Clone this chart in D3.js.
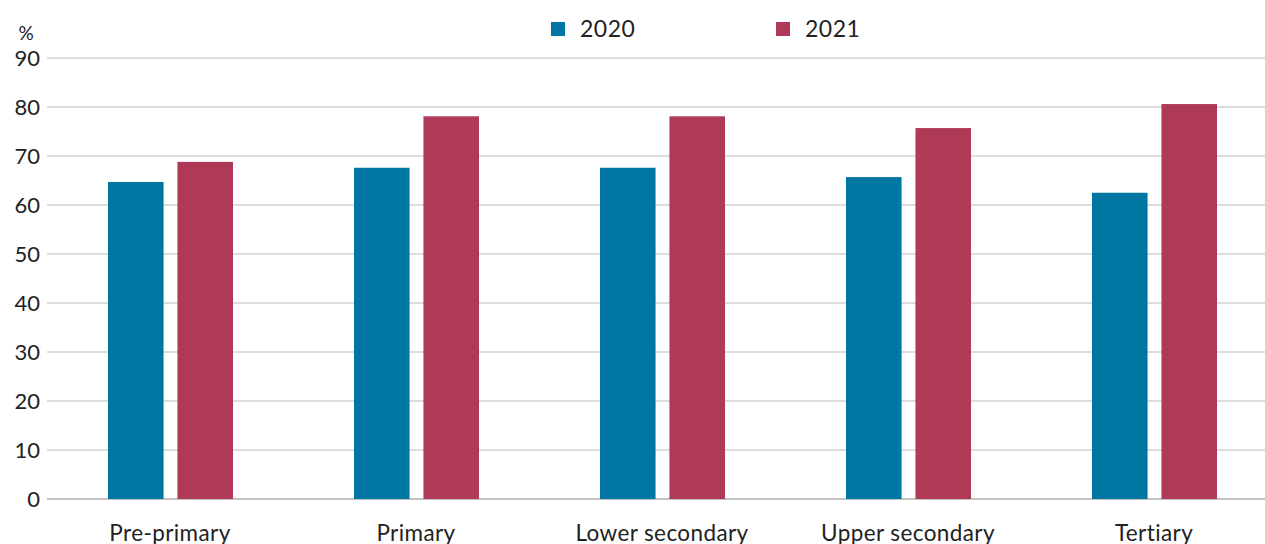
<!DOCTYPE html>
<html><head><meta charset="utf-8">
<script src="https://cdn.jsdelivr.net/npm/d3@7"></script>
<style>body{margin:0;background:#fff}svg{font-family:Lato,"Open Sans",sans-serif}</style>
</head><body><svg id="c" width="1265" height="544"></svg>
<script>
const categories=["Pre-primary","Primary","Lower secondary","Upper secondary","Tertiary"];
const series=["2020","2021"];
const v2020=[64.7,67.6,67.6,65.7,62.5];
const v2021=[68.8,78.1,78.1,75.7,80.6];
const yTicks=[0,10,20,30,40,50,60,70,80,90];
const colors=["#0077a3","#ae3a58"];
const svg=d3.select("#c");
const y=d3.scaleLinear().domain([0,90]).range([499,58]);
const x=d3.scaleBand().domain(categories).range([47,1277]);
const x1=d3.scaleBand().domain(series).range([61,186]).paddingInner(0.2);
svg.append("g").selectAll("line").data(yTicks).join("line")
 .attr("x1",47).attr("x2",1265).attr("y1",d=>y(d)).attr("y2",d=>y(d))
 .attr("stroke",d=>d===0?"#888":"#bbb").attr("stroke-width",1);
svg.append("g").selectAll("text").data(yTicks).join("text")
 .attr("x",40).attr("y",d=>y(d)).attr("dy","0.35em").attr("text-anchor","end")
 .attr("font-size",22).attr("fill","#222").text(d=>d);
svg.append("text").attr("x",26).attr("y",40).attr("font-size",19).attr("text-anchor","middle").attr("fill","#222").text("%");
const data=[v2020,v2021];
data.forEach((vals,si)=>{
 svg.append("g").selectAll("rect").data(categories).join("rect")
  .attr("x",(c)=>x(c)+x1(series[si]))
  .attr("width",x1.bandwidth())
  .attr("y",(c,i)=>y(vals[i])).attr("height",(c,i)=>y(0)-y(vals[i]))
  .attr("fill",colors[si]);
});
svg.append("g").selectAll("text").data(categories).join("text")
 .attr("x",c=>x(c)+123).attr("y",541).attr("text-anchor","middle")
 .attr("font-size",22.5).attr("letter-spacing",0.4).attr("fill","#222").text(c=>c);
const lx=[551,776];
series.forEach((s,i)=>{
 svg.append("rect").attr("x",lx[i]).attr("y",22).attr("width",14).attr("height",14).attr("fill",colors[i]);
 svg.append("text").attr("x",lx[i]+29).attr("y",29).attr("dy","0.35em").attr("font-size",23).attr("letter-spacing",0.5).attr("fill","#222").text(s);
});
</script></body></html>
